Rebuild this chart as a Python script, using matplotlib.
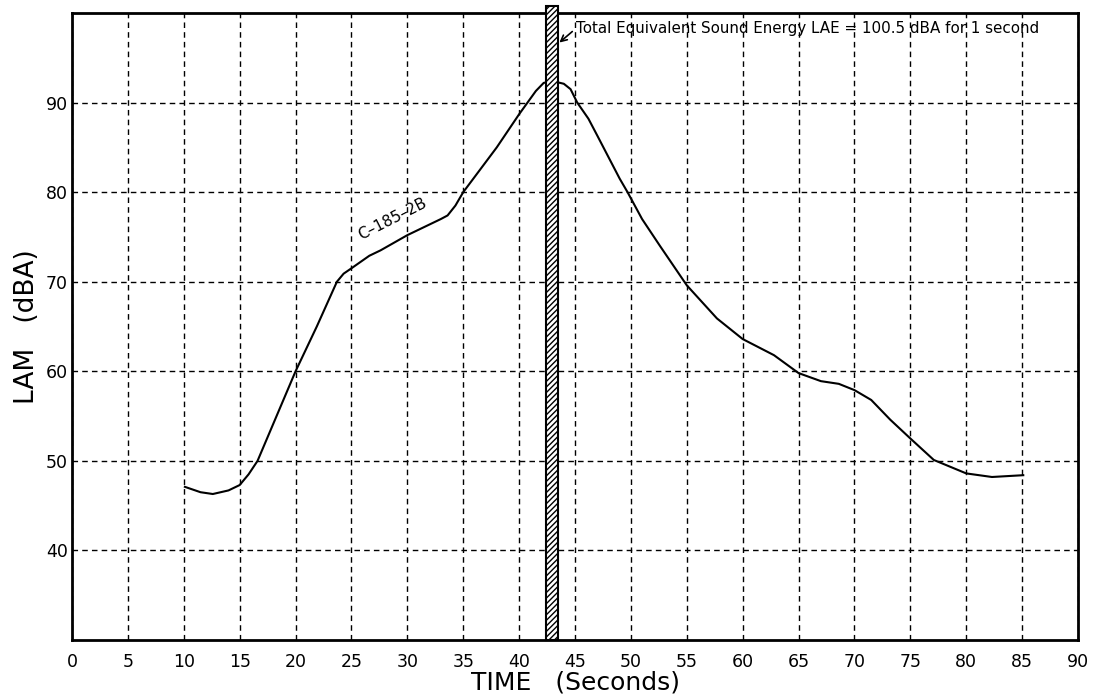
import numpy as np
import matplotlib
matplotlib.use('Agg')
import matplotlib.pyplot as plt

# LAM trace for C-185-2B
time_s = [10.1, 11.5, 12.6, 14.0, 15.0, 15.8, 16.6, 18.3, 20.0, 21.9, 23.7, 24.3, 25.0,
          26.6, 27.6, 30.0, 33.0, 33.6, 34.3, 35.0, 36.5, 38.0, 40.0, 40.75, 41.5, 42.2,
          43.0, 44.0, 44.6, 45.2, 46.2, 47.0, 48.0, 49.0, 49.7, 51.0, 52.6, 55.0, 57.7,
          60.0, 62.8, 65.0, 67.0, 68.6, 70.0, 71.5, 73.2, 75.0, 77.1, 80.0, 82.3, 85.1]
lam_dba = [47.1, 46.5, 46.3, 46.7, 47.3, 48.5, 50.0, 55.0, 60.0, 65.0, 70.0, 70.9, 71.5,
           72.9, 73.5, 75.2, 77.0, 77.4, 78.5, 80.0, 82.5, 85.0, 88.7, 90.0, 91.3, 92.2,
           92.4, 92.1, 91.5, 90.0, 88.2, 86.3, 83.9, 81.5, 80.0, 77.0, 74.0, 69.6, 65.9,
           63.6, 61.8, 59.8, 58.9, 58.6, 57.9, 56.8, 54.6, 52.5, 50.1, 48.6, 48.2, 48.4]

# equivalent 1-second bar (LAE)
lae_start, lae_end = 42.4, 43.5
lae_top = 100.8

x_ticks = list(range(0, 95, 5))
y_ticks = [40, 50, 60, 70, 80, 90]
curve_label = 'C\u2013185\u20132B'
note = 'Total Equivalent Sound Energy LAE = 100.5 dBA for 1 second'

plt.rcParams['font.family'] = ['DejaVu Sans']
fig = plt.figure(figsize=(10.94, 7.0), dpi=100)
ax = fig.add_axes([0.0658, 0.0857, 0.9196, 0.8957])
ax.set_xlim(0, 90); ax.set_ylim(30, 100)

ax.set_xticks(x_ticks); ax.set_yticks(y_ticks)
ax.tick_params(length=0, labelsize=12.5)
ax.tick_params(axis='x', pad=9)
ax.tick_params(axis='y', pad=3)
for s in ax.spines.values(): s.set_linewidth(2)
ax.grid(True, color='black', lw=1.0, ls=(0, (4, 3)))
ax.set_axisbelow(True)

ax.plot(time_s, lam_dba, color='black', lw=1.5, zorder=3)

ax.bar((lae_start + lae_end) / 2, lae_top - 30, bottom=30, width=lae_end - lae_start,
       color='white', edgecolor='black', hatch='//////', lw=1.5, zorder=4, clip_on=False)

ax.annotate(note, xy=(43.6, 96.7), xytext=(45.1, 98.3), fontsize=10.9, va='center',
            arrowprops=dict(arrowstyle='->', color='black', lw=1.2, shrinkA=1, shrinkB=0,
                            relpos=(0, 0.5)),
            zorder=5)

ax.text(28.7, 77.0, curve_label, rotation=27, fontsize=11, ha='center', va='center')

ax.set_xlabel('TIME   (Seconds)', fontsize=18, labelpad=0)
ax.set_ylabel('LAM   (dBA)', fontsize=19, labelpad=4)

fig.savefig('out.png', dpi=100, facecolor='white')
